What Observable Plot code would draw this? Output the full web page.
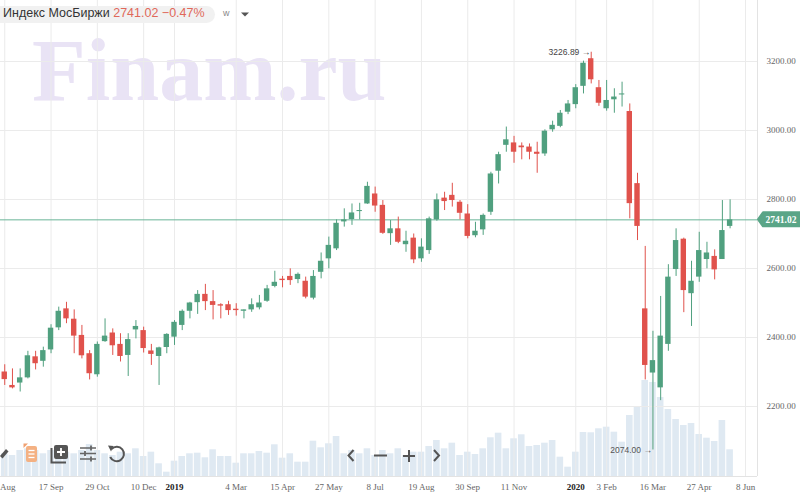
<!DOCTYPE html>
<html><head><meta charset="utf-8">
<script src="https://cdn.jsdelivr.net/npm/d3@7"></script>
<script src="https://cdn.jsdelivr.net/npm/@observablehq/plot@0.6"></script>
<style>
body{margin:0;background:#fff;}
#wrap{position:relative;width:800px;height:503px;overflow:hidden;background:#fff;}
#wrap > *{position:absolute;left:0;top:0;}
#hdr{top:6px;height:17px;line-height:17px;padding:0 10px 0 3px;background:#f1f1f1;border-radius:0 9px 9px 0;font:12.5px "Liberation Sans",Arial,sans-serif;color:#333;white-space:nowrap;}
#hdr span{color:#e0685a;}
#per{left:223px;top:8px;font:9px "Liberation Sans",sans-serif;color:#888;}
</style></head><body><div id="wrap"></div>
<script>
// ---- data (weekly candles, MOEX index, from week of 6 Aug 2018) ----
const firstWeek = "2018-08-06";
const lastAxisWeek = "2020-06-15";
const open  = [2300,2261,2268,2283,2344,2331,2364,2428,2483,2453,2406,2353,2292,2388,2413,2380,2348,2422,2420,2361,2345,2371,2401,2435,2476,2501,2525,2504,2495,2495,2482,2476,2480,2486,2505,2548,2569,2577,2568,2563,2514,2589,2628,2657,2735,2742,2765,2787,2816,2783,2701,2715,2669,2688,2628,2652,2741,2804,2812,2792,2758,2695,2712,2763,2882,2957,2964,2955,2952,2937,2932,3002,3012,3053,3075,3128,3208,3124,3063,3089,3103,3055,2846,2483,2297,2254,2380,2597,2685,2527,2575,2626,2635,2626,2722];
const high  = [2321,2309,2309,2360,2360,2372,2437,2488,2502,2480,2435,2362,2387,2454,2425,2411,2411,2449,2430,2380,2372,2411,2449,2480,2502,2536,2554,2536,2498,2505,2498,2480,2512,2522,2551,2592,2577,2599,2587,2575,2594,2645,2691,2741,2773,2787,2789,2850,2836,2797,2739,2749,2708,2700,2686,2749,2816,2821,2847,2797,2785,2734,2758,2879,2937,3010,2983,2964,2961,2966,3002,3027,3058,3087,3133,3201,3226.89,3145,3145,3121,3140,3077,2876,2664,2418,2519,2611,2715,2688,2621,2705,2676,2654,2797,2799];
const low   = [2261,2251,2242,2280,2306,2314,2353,2420,2440,2353,2338,2277,2285,2386,2348,2329,2287,2396,2355,2319,2261,2353,2377,2420,2454,2467,2478,2451,2454,2464,2462,2454,2473,2480,2502,2544,2544,2551,2556,2512,2509,2570,2599,2652,2720,2725,2741,2786,2763,2699,2667,2672,2647,2614,2618,2641,2737,2768,2778,2741,2686,2689,2696,2754,2845,2937,2905,2915,2915,2876,2925,2995,3008,3046,3063,3106,3135,3070,3056,3050,3068,2744,2681,2277,2074,2217,2360,2577,2472,2432,2560,2599,2567,2626,2715];
const close = [2278,2254,2283,2347,2324,2362,2427,2476,2454,2404,2347,2295,2380,2404,2376,2345,2394,2432,2368,2351,2370,2409,2444,2476,2500,2525,2504,2493,2491,2478,2478,2480,2495,2500,2541,2560,2565,2565,2583,2517,2577,2621,2667,2731,2741,2761,2768,2838,2781,2702,2715,2676,2679,2625,2662,2744,2799,2794,2797,2760,2693,2708,2754,2874,2930,2973,2937,2950,2937,2931,2998,3015,3050,3077,3124,3195,3147,3079,3087,3097,3106,2788,2722,2319,2333,2404,2575,2681,2536,2563,2652,2645,2596,2710,2741.02];
const volume = [22.7,21,26,27.7,26,22.7,26,22.7,24.3,22.7,26,32,26,22.7,21,24.3,22.7,27.7,20,24.3,12.7,4.3,15.3,20,22.7,23.3,18.7,26.7,20,20,13.3,22.7,22.7,25,23.3,31.7,18.3,22.7,14.3,14.3,35.3,28.7,32.7,40,22.7,26,22.7,27.7,21,26,22.7,27.7,21,24.3,24.3,30,36,27.7,33.3,21,24.3,22,27.7,38.7,43.3,27.7,37.7,41.7,30,31,33.3,36,19.3,9.3,24.3,44,43.7,47.7,49.3,44.3,34.3,61,70,96,94,79,67,57,51,53,42,38.3,35,56,26.7];
const tickDates  = ["2018-08-06","2018-09-17","2018-10-29","2018-12-10","2019-01-07","2019-03-04","2019-04-15","2019-05-27","2019-07-08","2019-08-19","2019-09-30","2019-11-11","2020-01-06","2020-02-03","2020-03-16","2020-04-27","2020-06-08"];
const tickLabels = ["6 Aug","17 Sep","29 Oct","10 Dec","2019","4 Mar","15 Apr","27 May","8 Jul","19 Aug","30 Sep","11 Nov","2020","3 Feb","16 Mar","27 Apr","8 Jun"];
const yearTicks = ["2019","2020"];
const priceTicks = [2200,2400,2600,2800,3000,3200];
const lastPrice = 2741.02;
const lastChange = "−0.47%";
const maxIdx = 76, minIdx = 84;

// ---- styles ----
const GREEN = "#50a07f", RED = "#e0524c", VOL = "#dfe9f2", GRID = "#ebebeb";
const AXISFONT = "Liberation Serif, Times New Roman, serif";

const weeks = d3.utcMonday.range(new Date(firstWeek), d3.utcDay.offset(new Date(lastAxisWeek), 1));
const byTime = new Map(weeks.map(w => [+w, w]));
const candles = open.map((o, i) => ({date: weeks[i], open: o, high: high[i], low: low[i], close: close[i], volume: volume[i]}));
const ticks = tickDates.map(s => byTime.get(+new Date(s)));
const labelOf = new Map(ticks.map((t, i) => [+t, tickLabels[i]]));
const regTicks = ticks.filter(t => !yearTicks.includes(labelOf.get(+t)));
const yrTicks = ticks.filter(t => yearTicks.includes(labelOf.get(+t)));

const W = 800, H = 503, MR = 43, MB = 27;
const xOpts = {type: "band", domain: weeks, paddingInner: 0.3, paddingOuter: 0.2, align: 0.5};
const wrap = document.getElementById("wrap");

// watermark layer
const deco = d3.create("svg").attr("width", W).attr("height", H);
deco.append("text").attr("x", 32).attr("y", 100).attr("font-family", "Liberation Serif, serif")
  .attr("font-weight", "bold").attr("font-size", 88).attr("fill", "#e9e3f5").text("Finam.ru");
wrap.appendChild(deco.node());

// volume layer
const volPlot = Plot.plot({
  width: W, height: H, marginLeft: 0, marginRight: MR, marginTop: H - MB - 100, marginBottom: MB,
  style: {background: "transparent"},
  x: {...xOpts, axis: null},
  y: {domain: [0, 100], axis: null},
  marks: [
    Plot.barY(candles, {x: "date", y: "volume", fill: VOL, insetLeft: -0.6, insetRight: -0.6}),
    Plot.ruleY([0], {stroke: "#e3e3e3"})
  ]
});
wrap.appendChild(volPlot);

// price layer
const color = d => d.close >= d.open ? GREEN : RED;
function frameRight(index, scales, values, dims) {
  const x0 = dims.width - dims.marginRight + 0.5;
  return d3.create("svg:line").attr("x1", x0).attr("x2", x0).attr("y1", 0)
    .attr("y2", dims.height - dims.marginBottom).attr("stroke", "#e3e3e3").node();
}
function priceTag(index, scales, values, dims) {
  const y = scales.y(lastPrice);
  const x0 = dims.width - dims.marginRight + 1;
  const g = d3.create("svg:g");
  g.append("path").attr("d", `M${x0},${y} L${x0+5},${y-7} H${x0+48} V${y+7} H${x0+5} Z`).attr("fill", "#5aa587")
    .attr("stroke", "#5aa587").attr("stroke-linejoin", "round").attr("stroke-width", 2);
  g.append("text").attr("x", x0 + 23).attr("y", y).attr("dy", "0.34em").attr("text-anchor", "middle")
    .attr("fill", "#fff").attr("font-weight", "bold").attr("font-size", 9.5).attr("font-family", AXISFONT)
    .text(lastPrice.toFixed(2));
  return g.node();
}
const pricePlot = Plot.plot({
  width: W, height: H, marginLeft: 0, marginRight: MR, marginTop: 0, marginBottom: MB,
  style: {background: "transparent", fontFamily: AXISFONT, fontSize: "9px"},
  x: {...xOpts, axis: null},
  y: {domain: [1997.1, 3376.8], axis: null},
  color: {type: "identity"},
  marks: [
    Plot.gridX(ticks, {stroke: GRID, strokeOpacity: 1}),
    Plot.gridY(priceTicks, {stroke: GRID, strokeOpacity: 1}),
    frameRight,
    Plot.ruleY([lastPrice], {stroke: "#6ab497", strokeWidth: 1}),
    Plot.ruleX(candles, {x: "date", y1: "low", y2: "high", stroke: color, strokeWidth: 1}),
    Plot.barY(candles, {x: "date", y1: "open", y2: "close", fill: color}),
    Plot.text([candles[maxIdx]], {x: "date", y: "high", text: d => d.high.toFixed(2) + " →", textAnchor: "end", dx: -1, fontSize: 8.5, fill: "#444", fontFamily: "Liberation Sans, Arial, sans-serif"}),
    Plot.text([candles[minIdx]], {x: "date", y: "low", text: d => d.low.toFixed(2) + " →", textAnchor: "end", dx: -1, fontSize: 8.5, fill: "#555", fontFamily: "Liberation Sans, Arial, sans-serif"}),
    Plot.axisY(priceTicks, {anchor: "right", tickSize: 0, tickPadding: 9, tickFormat: d => d.toFixed(2), fill: "#666", fontSize: 9}),
    Plot.axisX(regTicks, {anchor: "bottom", tickSize: 0, tickPadding: 7, tickFormat: d => labelOf.get(+d), fill: "#666", fontSize: 9}),
    Plot.axisX(yrTicks, {anchor: "bottom", tickSize: 0, tickPadding: 7, tickFormat: d => labelOf.get(+d), fill: "#222", fontSize: 9, fontWeight: "bold"}),
    priceTag
  ]
});
wrap.appendChild(pricePlot);

// header
const hdr = document.createElement("div");
hdr.id = "hdr";
hdr.innerHTML = `Индекс МосБиржи <span>${lastPrice.toFixed(2)} ${lastChange}</span>`;
wrap.appendChild(hdr);
const per = document.createElement("div");
per.id = "per"; per.textContent = "w";
wrap.appendChild(per);

// toolbar / navigation icons
const ui = d3.create("svg").attr("width", W).attr("height", H).style("pointer-events", "none");
ui.append("path").attr("d", "M241,12.5 H249 L245,16.5 Z").attr("fill", "#555");
// pencil
ui.append("path").attr("d", "M0,456 L6,449 L8.5,451.5 L2.5,458.5 Z").attr("fill", "#555");
// list icon (orange)
ui.append("rect").attr("x", 26).attr("y", 446).attr("width", 11).attr("height", 16).attr("rx", 2).attr("fill", "#f4b183");
[450.5, 454, 457.5].forEach(y => ui.append("line").attr("x1", 28.5).attr("x2", 34.5).attr("y1", y).attr("y2", y).attr("stroke", "#fff").attr("stroke-width", 1.3));
ui.append("path").attr("d", "M23.5,443.5 H28 L23.5,448 Z").attr("fill", "#f0a070");
// add-indicator icon
ui.append("path").attr("d", "M51.5,448 V462.5 H66").attr("stroke", "#555").attr("stroke-width", 2).attr("fill", "none");
ui.append("rect").attr("x", 54).attr("y", 445).attr("width", 14).attr("height", 14).attr("rx", 2).attr("fill", "#555");
ui.append("path").attr("d", "M61,448 V456 M57,452 H65").attr("stroke", "#fff").attr("stroke-width", 1.8);
// sliders
ui.append("path").attr("d", "M80,448 H96 M80,453.5 H96 M80,459 H96").attr("stroke", "#666").attr("stroke-width", 1.6);
ui.append("path").attr("d", "M91,445.5 V450.5 M85,451 V456 M91,456.5 V461.5").attr("stroke", "#666").attr("stroke-width", 1.8);
// undo
ui.append("path").attr("d", "M111.5,449 A7.2,7.2 0 1,1 110.2,457").attr("stroke", "#555").attr("stroke-width", 2).attr("fill", "none");
ui.append("path").attr("d", "M108,445.5 L113.5,446 L111,451.5 Z").attr("fill", "#555");
// navigation
ui.append("path").attr("d", "M353.5,450 L348.5,455.5 L353.5,461 M374,455.5 H387 M403,456 H415 M409,450 V462 M434,450 L439,455.5 L434,461")
  .attr("stroke", "#555").attr("stroke-width", 2).attr("fill", "none");
wrap.appendChild(ui.node());
</script></body></html>
